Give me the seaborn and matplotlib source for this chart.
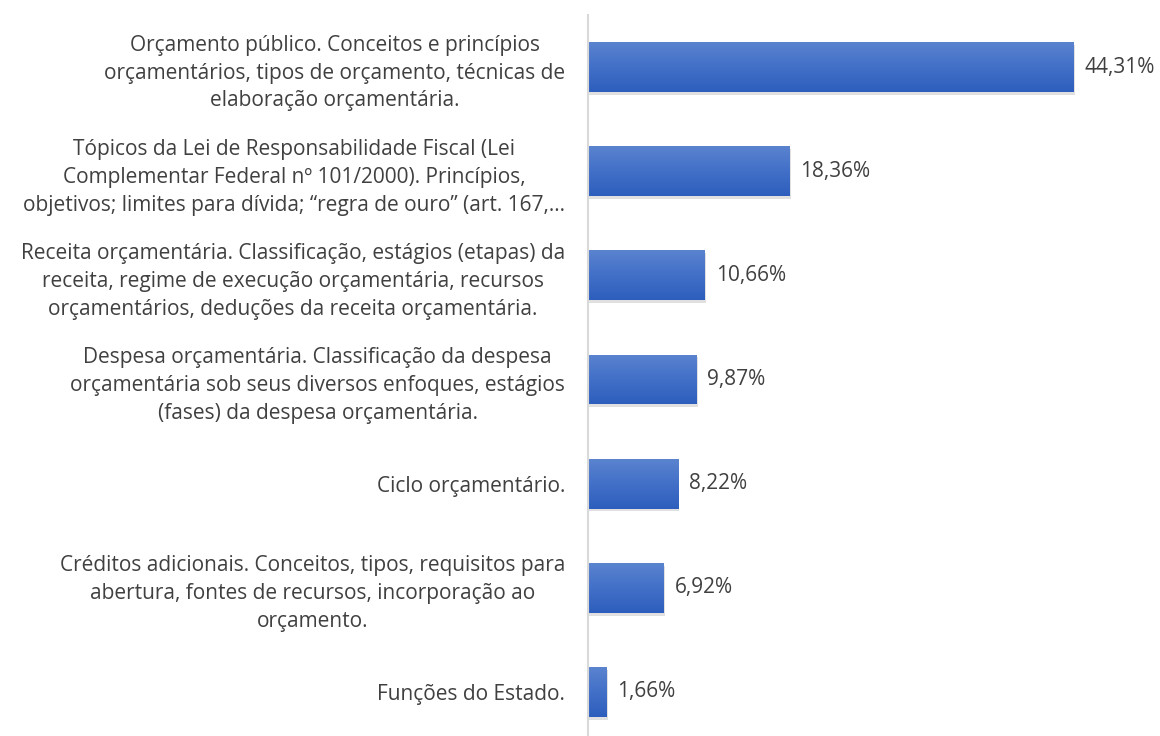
import matplotlib
matplotlib.use("Agg")
import matplotlib.pyplot as plt
import matplotlib.patheffects as pe
from matplotlib.colors import LinearSegmentedColormap
import numpy as np
import pandas as pd
import seaborn as sns

categories = [
    "Orçamento público. Conceitos e princípios\norçamentários, tipos de orçamento, técnicas de\nelaboração orçamentária.",
    "Tópicos da Lei de Responsabilidade Fiscal (Lei\nComplementar Federal nº 101/2000). Princípios,\nobjetivos; limites para dívida; “regra de ouro” (art. 167,…",
    "Receita orçamentária. Classificação, estágios (etapas) da\nreceita, regime de execução orçamentária, recursos\norçamentários, deduções da receita orçamentária.",
    "Despesa orçamentária. Classificação da despesa\norçamentária sob seus diversos enfoques, estágios\n(fases) da despesa orçamentária.",
    "Ciclo orçamentário.",
    "Créditos adicionais. Conceitos, tipos, requisitos para\nabertura, fontes de recursos, incorporação ao\norçamento.",
    "Funções do Estado.",
]
values = [44.31, 18.36, 10.66, 9.87, 8.22, 6.92, 1.66]
value_labels = ["44,31%", "18,36%", "10,66%", "9,87%", "8,22%", "6,92%", "1,66%"]

sns.set_theme(style="white")
plt.rcParams["font.family"] = ["Open Sans", "DejaVu Sans"]

df = pd.DataFrame({"cat": categories, "val": values})

fig = plt.figure(figsize=(11.6, 7.36), dpi=100)
ax = fig.add_axes([588 / 1160, 1 - 744 / 736, (1158 - 588) / 1160, (744 - 15) / 736])

sns.barplot(data=df, y="cat", x="val", orient="h", color="#4472C4",
            width=0.48, ax=ax, saturation=1)

cmap = LinearSegmentedColormap.from_list("g", ["#5B83CF", "#4270C8", "#2E5EBD"])
grad = np.linspace(0, 1, 64).reshape(-1, 1)
for p in list(ax.patches):
    p.set_edgecolor("none")
    p.set_path_effects([pe.SimplePatchShadow(offset=(1, -2), alpha=0.12, shadow_rgbFace="#000000"), pe.Normal()])
    x0, y0 = p.get_x(), p.get_y()
    w, h = p.get_width(), p.get_height()
    im = ax.imshow(grad, cmap=cmap, aspect="auto", extent=[x0, x0 + w, y0 + h, y0],
                   zorder=p.get_zorder() + 0.1, interpolation="bilinear")
    im.set_clip_path(p)

for i, (v, lab) in enumerate(zip(values, value_labels)):
    ax.text(v + 1.0, i, lab, va="center", ha="left", fontsize=15, color="#404040")

ax.set_xlim(0, 52)
ax.set_ylim(6.5, -0.5)
ax.set_xlabel("")
ax.set_ylabel("")
ax.set_xticks([])
for s in ["top", "right", "bottom"]:
    ax.spines[s].set_visible(False)
ax.spines["left"].set_color("#D9D9D9")
ax.spines["left"].set_linewidth(1.5)
ax.tick_params(axis="y", length=0, pad=16.5)
for t in ax.get_yticklabels():
    t.set_multialignment("center")
    t.set_fontsize(15)
    t.set_color("#404040")
    t.set_linespacing(1.43)

fig.savefig("out.png", dpi=100)
